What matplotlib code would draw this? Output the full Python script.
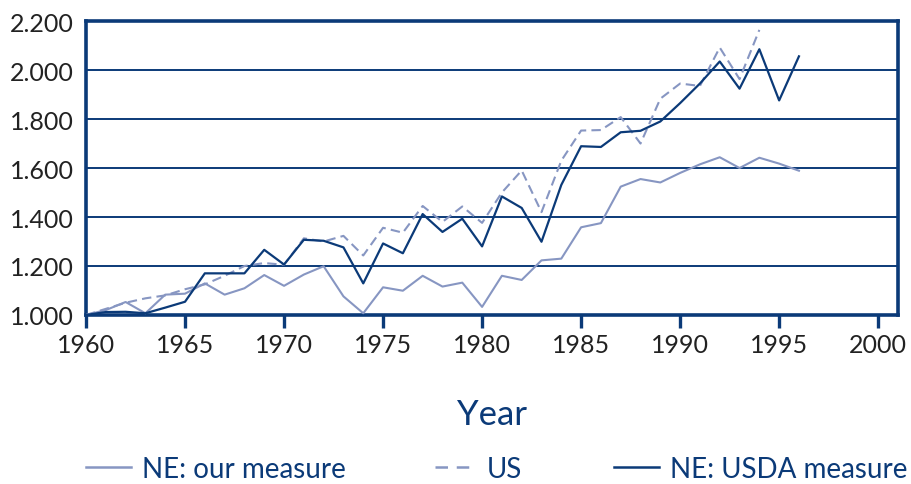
import matplotlib
matplotlib.use("Agg")
import matplotlib.pyplot as plt
from matplotlib.lines import Line2D
from matplotlib.ticker import FormatStrFormatter

NAVY = "#0b3a78"
LIGHT = "#8796c2"

years = list(range(1960, 1997))
us_years = list(range(1960, 1995))

ne_our = [1.000, 1.020, 1.053, 1.007, 1.083, 1.087, 1.129, 1.083, 1.109, 1.163,
          1.119, 1.165, 1.199, 1.076, 1.007, 1.113, 1.099, 1.160, 1.116, 1.132,
          1.033, 1.160, 1.143, 1.223, 1.230, 1.358, 1.375, 1.524, 1.555, 1.541,
          1.580, 1.615, 1.644, 1.600, 1.642, 1.618, 1.589]

us = [1.000, 1.025, 1.050, 1.068, 1.080, 1.105, 1.125, 1.160, 1.200, 1.212,
      1.205, 1.313, 1.300, 1.323, 1.243, 1.356, 1.336, 1.445, 1.380, 1.443,
      1.376, 1.500, 1.590, 1.420, 1.630, 1.753, 1.755, 1.808, 1.700, 1.883,
      1.945, 1.935, 2.092, 1.963, 2.164]

ne_usda = [1.000, 1.012, 1.013, 1.007, 1.030, 1.054, 1.170, 1.170, 1.170, 1.266,
           1.206, 1.307, 1.303, 1.276, 1.129, 1.292, 1.252, 1.412, 1.339, 1.393,
           1.280, 1.484, 1.437, 1.299, 1.531, 1.689, 1.686, 1.746, 1.752, 1.790,
           1.865, 1.945, 2.035, 1.924, 2.085, 1.876, 2.056]

x_ticks = [1960, 1965, 1970, 1975, 1980, 1985, 1990, 1995, 2000]
y_ticks = [1.0, 1.2, 1.4, 1.6, 1.8, 2.0, 2.2]

plt.rcParams["font.family"] = ["Lato", "DejaVu Sans"]

fig = plt.figure(figsize=(9.11, 4.85), dpi=100)
ax = fig.add_axes([0.0944, 0.3485, 0.8913, 0.606])

for y in y_ticks[1:-1]:
    ax.axhline(y, color=NAVY, lw=1.4, zorder=1)

ax.plot(years, ne_our, color=LIGHT, lw=1.5, zorder=3)
ax.plot(us_years, us, color=LIGHT, lw=1.5, dashes=(4.5, 2.5), zorder=3)
ax.plot(years, ne_usda, color=NAVY, lw=1.6, zorder=4)

ax.set_xlim(1960, 2001)
ax.set_ylim(1.0, 2.2)
ax.set_xticks(x_ticks)
ax.set_yticks(y_ticks)
ax.yaxis.set_major_formatter(FormatStrFormatter("%.3f"))

for s in ax.spines.values():
    s.set_color(NAVY)
    s.set_linewidth(2.6)

ax.tick_params(axis="x", direction="out", length=9, width=2.4, color=NAVY,
               labelsize=18, labelcolor="#222222", pad=4)
ax.tick_params(axis="y", length=0, labelsize=18, labelcolor="#222222", pad=9)

ax.set_xlabel("Year", fontsize=25, color=NAVY, labelpad=30)

# legend entries placed one by one, like the original layout
entries = [
    (Line2D([], [], color=LIGHT, lw=1.8), "NE: our measure", 86, 1.62),
    (Line2D([], [], color=LIGHT, lw=1.8, dashes=(5, 3.5)), "US", 435, 1.45),
    (Line2D([], [], color=NAVY, lw=1.8), "NE: USDA measure", 614, 1.62),
]
for handle, label, x_px, hlen in entries:
    leg = fig.legend([handle], [label], loc="center left", frameon=False,
                     fontsize=20, bbox_to_anchor=(x_px / 911, 0.031),
                     borderpad=0, borderaxespad=0, handlelength=hlen,
                     handletextpad=0.4)
    for t in leg.get_texts():
        t.set_color(NAVY)

fig.savefig("out.png", dpi=100)
